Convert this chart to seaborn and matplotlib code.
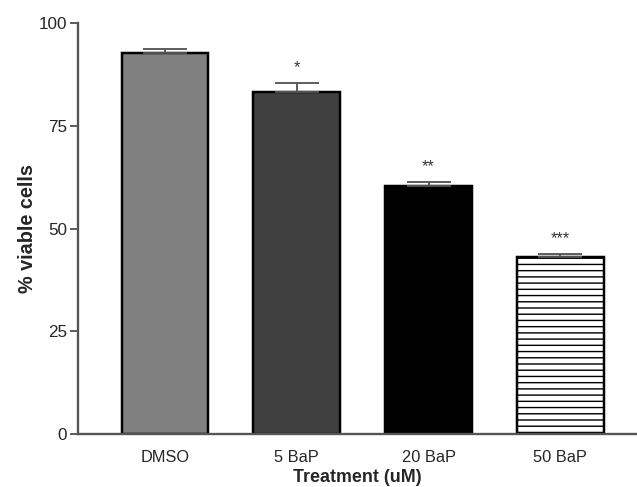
import numpy as np
import pandas as pd
import matplotlib
matplotlib.use("Agg")
import matplotlib.pyplot as plt
import seaborn as sns

# data
treatments = ["DMSO", "5 BaP", "20 BaP", "50 BaP"]
viable = [92.8, 83.3, 60.3, 43.0]
sem = [0.9, 2.1, 1.0, 0.7]
stars = ["", "*", "**", "***"]
bar_colors = ["#808080", "#404040", "#000000", "#ffffff"]

sns.set_style("ticks")
plt.rcParams["font.family"] = ["Liberation Sans", "DejaVu Sans"]
plt.rcParams["hatch.linewidth"] = 0.9

df = pd.DataFrame({"treatment": treatments, "viable": viable})

DPI = 112
fig = plt.figure(figsize=(637 / DPI, 487 / DPI), dpi=DPI)
ax = fig.add_axes([0.1225, 0.1088, 0.877, 0.844])

sns.barplot(data=df, x="treatment", y="viable", hue="treatment",
            palette=bar_colors, legend=False, errorbar=None,
            width=0.66, edgecolor="black", linewidth=1.6, ax=ax)
ax.patches[3].set_hatch("---")

# upper error bars only
x = np.arange(len(treatments))
ax.errorbar(x, viable, yerr=[np.zeros(len(sem)), sem], fmt="none",
            ecolor="#555555", elinewidth=1.2, capsize=14, capthick=1.2, zorder=1)

for xi, v, e, s in zip(x, viable, sem, stars):
    if s:
        ax.text(xi, v + e + 2.0, s, ha="center", va="bottom", fontsize=10.5, color="#333333")

ax.set_xlim(-0.66, 3.58)
ax.set_ylim(0, 100)
ax.set_yticks([0, 25, 50, 75, 100])
ax.set_xlabel("Treatment (uM)", fontsize=11.5, fontweight="bold", labelpad=3)
ax.set_ylabel("% viable cells", fontsize=12.8, fontweight="bold", labelpad=1)
ax.tick_params(axis="y", length=5, width=1.2, color="#555555", labelsize=11, pad=2)
ax.tick_params(axis="x", length=0, labelsize=10.5, pad=10)
for side in ["left", "bottom"]:
    ax.spines[side].set_color("#555555")
    ax.spines[side].set_linewidth(1.5)
sns.despine(ax=ax)

fig.savefig("out.png", dpi=DPI)
